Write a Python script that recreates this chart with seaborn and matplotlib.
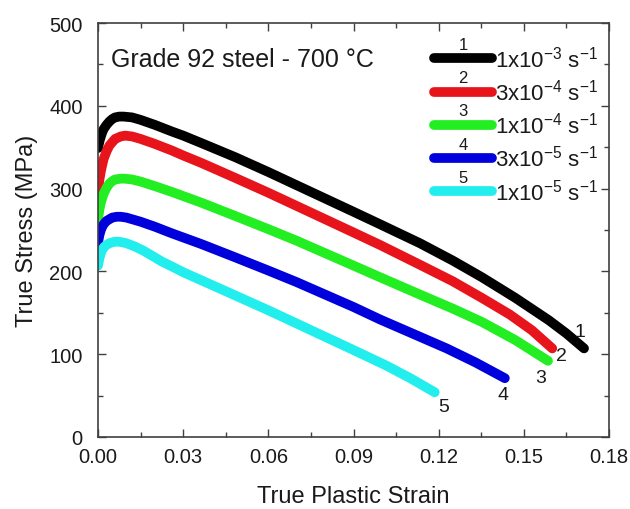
import numpy as np
import pandas as pd
import matplotlib
matplotlib.use("Agg")
import matplotlib.pyplot as plt
import seaborn as sns

# ---- data ----
rates = ["1", "2", "3", "4", "5"]
rate_labels = [r"1x10$^{-3}$ s$^{-1}$", r"3x10$^{-4}$ s$^{-1}$",
               r"1x10$^{-4}$ s$^{-1}$", r"3x10$^{-5}$ s$^{-1}$",
               r"1x10$^{-5}$ s$^{-1}$"]
colors = ["#000000", "#e8141c", "#22ee22", "#0000dc", "#22eeee"]

strain_1 = [0.0, 0.0005, 0.001, 0.0015, 0.002, 0.003, 0.004, 0.005, 0.006, 0.0075, 0.009, 0.012,
            0.015, 0.020, 0.026, 0.030, 0.0364, 0.0483, 0.060, 0.070, 0.080, 0.090, 0.0993,
            0.1134, 0.125, 0.1352, 0.147, 0.1588, 0.165, 0.1712]
stress_1 = [349, 357, 363, 368, 372, 377, 381, 384, 386, 387, 387, 386,
            383, 377, 369, 364, 355, 338, 320, 304, 288, 272, 257,
            234, 213, 193, 168, 141, 125, 107]

strain_2 = [0.0, 0.0005, 0.001, 0.0015, 0.002, 0.003, 0.004, 0.005, 0.006, 0.008, 0.0095, 0.012,
            0.015, 0.020, 0.026, 0.030, 0.0364, 0.0483, 0.060, 0.070, 0.080, 0.090, 0.0993,
            0.1134, 0.125, 0.1352, 0.145, 0.1528, 0.1600]
stress_2 = [297, 311, 321, 329, 336, 345, 352, 356, 360, 363, 364, 363,
            360, 354, 346, 340, 331, 313, 295, 279, 263, 247, 232,
            208, 188, 168, 148, 129, 107]

strain_3 = [0.0, 0.0005, 0.001, 0.0015, 0.002, 0.003, 0.004, 0.005, 0.006, 0.008, 0.0095, 0.012,
            0.015, 0.020, 0.026, 0.030, 0.0364, 0.0483, 0.060, 0.070, 0.080, 0.090, 0.0993,
            0.1134, 0.125, 0.1352, 0.147, 0.1585]
stress_3 = [263, 275, 283, 289, 294, 301, 306, 309, 311, 312, 312, 311,
            308.5, 303, 296, 291, 283, 267, 251, 237, 222, 207, 193,
            172, 155, 139, 117, 92]

strain_4 = [0.0, 0.0005, 0.001, 0.0015, 0.002, 0.003, 0.004, 0.005, 0.0066, 0.008, 0.010,
            0.015, 0.020, 0.026, 0.0364, 0.0483, 0.060, 0.070, 0.080, 0.090, 0.0993,
            0.1134, 0.1228, 0.133, 0.1433]
stress_4 = [235, 244, 250, 254, 257, 261, 263, 265, 266, 266, 265,
            260, 254, 246, 233, 217, 201, 187, 172, 157, 142,
            121, 107, 90, 71]

strain_5 = [0.0, 0.0005, 0.001, 0.0015, 0.002, 0.003, 0.004, 0.0055, 0.0066, 0.008, 0.010, 0.013,
            0.016, 0.020, 0.0224, 0.026, 0.030, 0.0359, 0.0483, 0.060, 0.070, 0.080, 0.090, 0.1017,
            0.110, 0.1186]
stress_5 = [207, 216, 222, 226, 229, 232, 234, 235.5, 236, 235.5, 234, 230,
            225, 217, 212, 206, 199, 190, 171, 153, 137, 121, 105, 86,
            71, 54]

end_label_x = [0.1698, 0.1634, 0.1560, 0.1427, 0.1219]
end_label_y = [128, 98, 72, 51, 37]

x_ticks = [0.00, 0.03, 0.06, 0.09, 0.12, 0.15, 0.18]
y_ticks = [0, 100, 200, 300, 400, 500]

strains = [strain_1, strain_2, strain_3, strain_4, strain_5]
stresses = [stress_1, stress_2, stress_3, stress_4, stress_5]
df = pd.concat([pd.DataFrame({"strain": s, "stress": t, "curve": c})
                for s, t, c in zip(strains, stresses, rates)], ignore_index=True)

# ---- style ----
sns.set_theme(style="white")
plt.rcParams["font.family"] = ["Liberation Sans", "DejaVu Sans"]
plt.rcParams["mathtext.fontset"] = "custom"
plt.rcParams["mathtext.rm"] = "Liberation Sans"
plt.rcParams["mathtext.it"] = "Liberation Sans"
plt.rcParams["mathtext.bf"] = "Liberation Sans:bold"
plt.rcParams["xtick.direction"] = "in"
plt.rcParams["ytick.direction"] = "in"
plt.rcParams["xtick.top"] = True
plt.rcParams["ytick.right"] = True
plt.rcParams["xtick.bottom"] = True
plt.rcParams["ytick.left"] = True

fig = plt.figure(figsize=(6.3, 5.1), dpi=100)
ax = fig.add_axes([0.1556, 0.1412, 0.8111, 0.8117])

sns.lineplot(data=df, x="strain", y="stress", hue="curve", palette=colors,
             sort=False, estimator=None, legend=False, ax=ax,
             linewidth=7, solid_capstyle="round", solid_joinstyle="round")

ax.set_xlim(0, 0.18)
ax.set_ylim(0, 500)
ax.set_xticks(x_ticks)
ax.set_xticklabels([f"{v:.2f}" for v in x_ticks])
ax.set_yticks(y_ticks)
ax.set_xticks(np.arange(0.015, 0.18, 0.03), minor=True)
ax.set_yticks(np.arange(50, 500, 100), minor=True)
ax.tick_params(which="both", direction="in", top=True, right=True,
               bottom=True, left=True, color="#404040", width=1.0)
ax.tick_params(which="major", length=6, labelsize=14.5,
               labelcolor="#1a1a1a")
ax.tick_params(axis="x", which="major", pad=7)
ax.tick_params(axis="y", which="major", pad=11)
ax.tick_params(which="minor", length=3.5)
for sp in ax.spines.values():
    sp.set_color("#404040")
    sp.set_linewidth(1.2)

ax.set_xlabel("True Plastic Strain", fontsize=17, labelpad=14, color="#1a1a1a")
ax.set_ylabel("True Stress (MPa)", fontsize=17, labelpad=8, color="#1a1a1a")

ax.text(0.025, 0.913, "Grade 92 steel - 700 °C", transform=ax.transAxes,
        fontsize=18, va="center", ha="left", color="#1a1a1a")

for lx, ly, r in zip(end_label_x, end_label_y, rates):
    ax.text(lx, ly, r, fontsize=14, ha="center", va="center", color="#1a1a1a")

leg = ax.legend(ax.get_lines(), rate_labels, loc="upper left",
                bbox_to_anchor=(0.614, 1.0), frameon=False, fontsize=16,
                handlelength=2.6, handletextpad=0.15, labelspacing=0.33,
                borderaxespad=0.6)
for t in leg.get_texts():
    t.set_color("#1a1a1a")

fig.canvas.draw()
renderer = fig.canvas.get_renderer()
W, H = fig.bbox.width, fig.bbox.height
for line, r in zip(leg.get_lines(), rates):
    bb = line.get_window_extent(renderer)
    cx = (bb.x0 + bb.x1) / 2
    cy = (bb.y0 + bb.y1) / 2
    fig.text(cx / W, (cy + 14) / H, r, fontsize=12, ha="center", va="center",
             color="#1a1a1a")

fig.savefig("out.png", dpi=100)
